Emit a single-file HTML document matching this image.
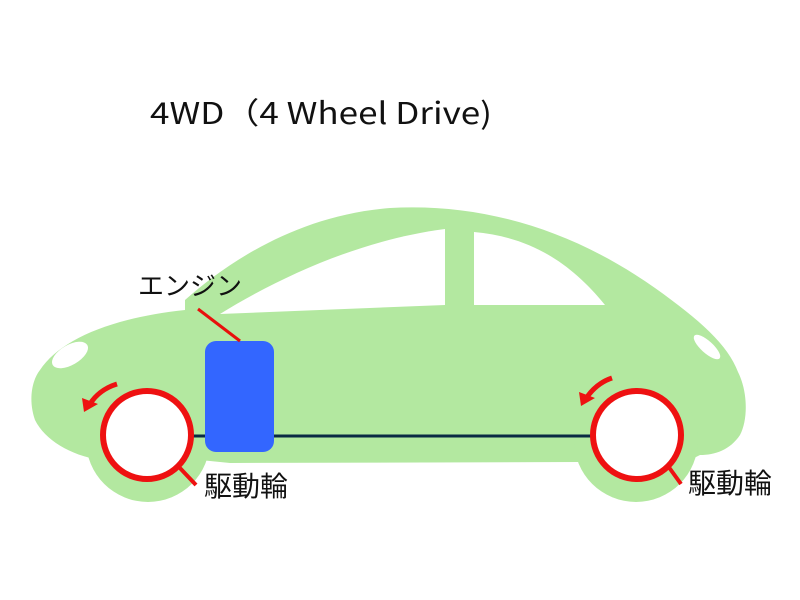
<!DOCTYPE html>
<html><head><meta charset="utf-8"><style>html,body{margin:0;padding:0;background:#fff}svg{display:block}</style></head>
<body>
<svg width="800" height="600" viewBox="0 0 800 600" xmlns="http://www.w3.org/2000/svg">
<rect width="800" height="600" fill="#fff"/>
<text x="150" y="124" font-family="Noto Sans CJK JP, Liberation Sans, sans-serif" font-size="30" textLength="342" lengthAdjust="spacingAndGlyphs" fill="#111">4WD（4 Wheel Drive)</text>
<g fill="#b3e8a0">
  <path d="M185 300 C230 260 300 215 390 208 C480 203 570 228 655 288 C700 320 728 345 738 372 C748 392 748 420 740 435 C730 450 715 455 700 455 L690 460 L580 462 L230 463 L200 460 L100 460 C70 455 45 440 35 420 C28 400 32 380 40 370 C60 340 110 318 185 310 Z"/>
  <circle cx="148" cy="440" r="62"/>
  <circle cx="636" cy="440" r="62"/>
</g>
<path d="M220 314 C280 277 360 240 445 229 L445 305 Z" fill="#fff"/>
<path d="M474 232 C530 237 570 262 605 305 L474 305 Z" fill="#fff"/>
<ellipse cx="70" cy="355" rx="20" ry="10" transform="rotate(-30 70 355)" fill="#fff"/>
<ellipse cx="707" cy="347" rx="17" ry="6" transform="rotate(42 707 347)" fill="#fff"/>
<line x1="190" y1="436" x2="592" y2="436" stroke="#0a2a44" stroke-width="3"/>
<rect x="205" y="341" width="69" height="111" rx="11" fill="#3366ff"/>
<line x1="198" y1="309" x2="240" y2="341" stroke="#e8100c" stroke-width="3"/>
<text x="138" y="295" font-family="Noto Sans CJK JP, Liberation Sans, sans-serif" font-size="26" fill="#111">エンジン</text>
<g stroke="#ee1111" fill="#fff">
<circle cx="147" cy="435" r="44" stroke-width="6"/>
<circle cx="637" cy="435" r="44" stroke-width="6"/>
</g>
<g stroke="#ee1111" stroke-width="4">
<line x1="178" y1="466" x2="196" y2="485"/>
<line x1="668" y1="466" x2="681" y2="484"/>
</g>
<g fill="none" stroke="#ee1111" stroke-width="5">
<path d="M117 384 C104 388 95 396 90 404"/>
<path d="M612 378 C600 382 592 390 587 397"/>
</g>
<g fill="#ee1111">
<polygon points="82,398 98,404 84,412"/>
<polygon points="579,392 595,398 581,406"/>
</g>
<text x="204" y="496" font-family="Noto Sans CJK JP, Liberation Sans, sans-serif" font-size="28" fill="#111">駆動輪</text>
<text x="688" y="493" font-family="Noto Sans CJK JP, Liberation Sans, sans-serif" font-size="28" fill="#111">駆動輪</text>
</svg>
</body></html>
